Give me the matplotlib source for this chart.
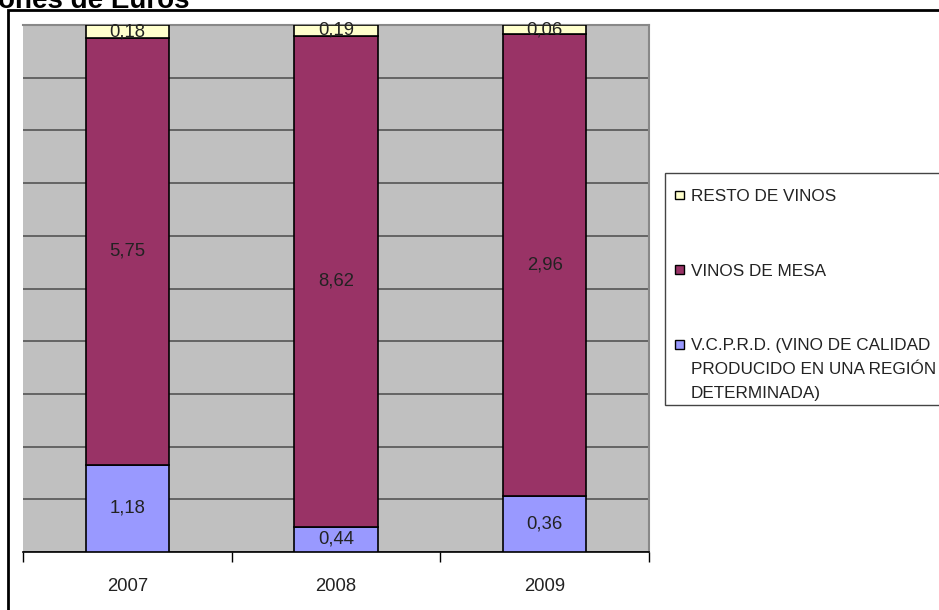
import matplotlib
matplotlib.use("Agg")
import matplotlib.pyplot as plt
from matplotlib.patches import Rectangle
import matplotlib.transforms as mtransforms
import numpy as np

plt.rcParams['font.family'] = ['Liberation Sans', 'DejaVu Sans']

years = ['2007', '2008', '2009']
series_names = ['V.C.P.R.D. (VINO DE CALIDAD\nPRODUCIDO EN UNA REGIÓN\nDETERMINADA)',
                'VINOS DE MESA', 'RESTO DE VINOS']
vcprd = [1.18, 0.44, 0.36]
mesa = [5.75, 8.62, 2.96]
resto = [0.18, 0.19, 0.06]
colors = ['#9999FF', '#993366', '#FFFFCC']
title = 'Millones de Euros'

W, H = 939, 610
FS = 13.3
LFS = 12.3
TXT = '#222222'
fig = plt.figure(figsize=(W / 100, H / 100), dpi=100)
ax = fig.add_axes([23 / W, 1 - 552 / H, (649 - 23) / W, (552 - 25) / H])
ax.set_facecolor('#C0C0C0')

data = np.array([vcprd, mesa, resto])
totals = data.sum(axis=0)
pct = data / totals * 100
x = np.arange(len(years))
bottom = np.zeros(len(years))
for i in range(3):
    ax.bar(x, pct[i], 0.4, bottom=bottom, color=colors[i],
           edgecolor='black', linewidth=1.2, zorder=3)
    for j in range(len(years)):
        ax.text(x[j], bottom[j] + pct[i][j] / 2, f"{data[i][j]:.2f}".replace('.', ','),
                ha='center', va='center', fontsize=FS, color=TXT, zorder=4)
    bottom += pct[i]

ax.set_xlim(-0.5, 2.5)
ax.set_ylim(0, 100)
ax.set_yticks(np.arange(0, 101, 10))
ax.yaxis.grid(True, color='#555555', linewidth=1.2, zorder=1)
ax.tick_params(axis='y', left=False, labelleft=False)
ax.set_xticks(x)
ax.set_xticklabels(years, fontsize=FS, color=TXT)
ax.tick_params(axis='x', which='major', length=0, pad=19)
ax.set_xticks([-0.5, 0.5, 1.5, 2.5], minor=True)
ax.tick_params(axis='x', which='minor', length=7, width=1, color='black')
for s in ['top', 'right']:
    ax.spines[s].set_color('#888888')
    ax.spines[s].set_linewidth(1.5)
ax.spines['left'].set_visible(False)
ax.spines['bottom'].set_color('black')
ax.spines['bottom'].set_linewidth(1.2)

# legend (drawn in figure pixels, handle aligned with first text line)
def fx(px):
    return px / W

def fy(py):
    return 1 - py / H

fig.patches.append(Rectangle((fx(665), fy(405)), 1.0, fy(173) - fy(405),
                             transform=fig.transFigure, facecolor='white',
                             edgecolor='#444444', linewidth=1, zorder=5))
leg_rows = [195, 269.5, 344]
shift = mtransforms.ScaledTranslation(0, 6 / 100, fig.dpi_scale_trans)
for row, name, col in zip(leg_rows, series_names[::-1], colors[::-1]):
    fig.patches.append(Rectangle((fx(675), fy(row + 4.5)), fx(9), fy(row - 4.5) - fy(row + 4.5),
                                 transform=fig.transFigure, facecolor=col,
                                 edgecolor='black', linewidth=1, zorder=6))
    fig.text(fx(691), fy(row), name, ha='left', va='top', fontsize=LFS, color=TXT,
             linespacing=1.75, zorder=7, transform=fig.transFigure + shift)

# outer chart border
fig.patches.append(Rectangle((8 / W, -0.1), 1.2, (1 - 10 / H) + 0.1,
                             transform=fig.transFigure, fill=False,
                             edgecolor='black', linewidth=2, zorder=10))
fig.text(190 / W, 1 - 8 / H, title, ha='right', va='baseline',
         fontsize=20, fontweight='bold', color='black')

fig.savefig('out.png', dpi=100)
